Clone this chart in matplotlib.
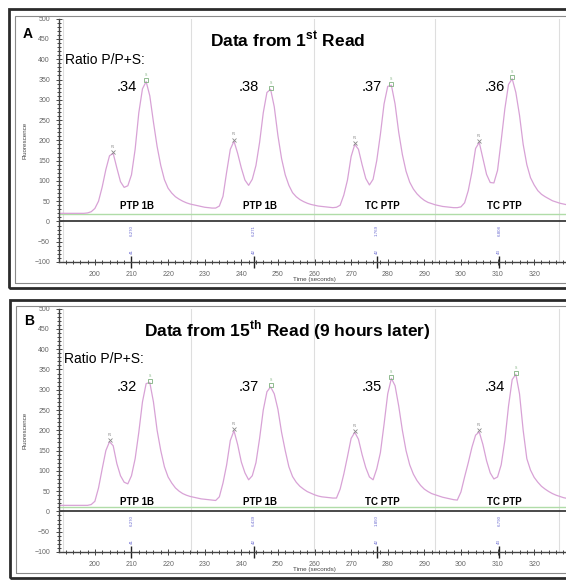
import numpy as np
import matplotlib.pyplot as plt
from matplotlib.patches import Rectangle

plt.rcParams['font.family'] = ['Liberation Sans', 'DejaVu Sans']
plt.rcParams['mathtext.fontset'] = 'custom'
plt.rcParams['mathtext.rm'] = 'Liberation Sans'
plt.rcParams['mathtext.bf'] = 'Liberation Sans:bold'

# fluorescence traces, one reading per second from 190 s to 329 s
time_s = np.arange(190, 330)
read1 = [20, 20, 20, 20, 20, 20, 20, 20, 21, 24,
         32, 50, 85, 128, 162, 168, 132, 98, 84, 88,
         115, 178, 268, 327, 345, 310, 245, 185, 138, 103,
         82, 70, 61, 55, 50, 46, 43, 41, 39, 37,
         35, 34, 33, 33, 38, 62, 122, 178, 198, 168,
         132, 102, 89, 104, 138, 195, 268, 318, 326, 283,
         212, 155, 115, 89, 71, 61, 54, 49, 45, 42,
         40, 38, 37, 36, 35, 34, 35, 40, 65, 102,
         160, 190, 178, 140, 106, 90, 104, 150, 215, 290,
         333, 336, 290, 220, 165, 124, 97, 80, 68, 59,
         52, 47, 44, 41, 39, 37, 36, 35, 34, 34,
         36, 46, 76, 122, 180, 195, 156, 116, 96, 95,
         126, 200, 278, 338, 352, 318, 262, 190, 140, 108,
         90, 76, 67, 61, 56, 51, 48, 45, 43, 41]
read15 = [15, 15, 15, 15, 15, 15, 15, 15, 15, 17,
          25, 58, 105, 150, 172, 162, 118, 88, 72, 68,
          88, 130, 195, 270, 315, 318, 270, 200, 150, 110,
          85, 70, 58, 50, 44, 40, 37, 35, 33, 31,
          30, 29, 28, 27, 36, 70, 115, 175, 199, 165,
          122, 95, 78, 88, 120, 180, 250, 295, 307, 290,
          252, 195, 150, 110, 86, 72, 62, 55, 49, 45,
          41, 38, 36, 35, 34, 33, 33, 55, 92, 135,
          180, 195, 178, 140, 108, 85, 78, 105, 145, 215,
          290, 328, 310, 260, 200, 150, 115, 92, 76, 64,
          55, 49, 44, 41, 38, 35, 33, 31, 29, 28,
          48, 85, 120, 158, 188, 196, 165, 125, 95, 80,
          85, 115, 175, 260, 325, 338, 290, 200, 130, 102,
          84, 72, 62, 55, 49, 44, 40, 37, 34, 32]

ratios1 = ['.34', '.38', '.37', '.36']
ratios15 = ['.32', '.37', '.35', '.34']
enzymes = ['PTP 1B', 'PTP 1B', 'TC PTP', 'TC PTP']
inject_marks = [210, 243.5, 277, 310.5]
separators = [191.3, 226.2, 259.8, 292.9, 326.8]
small_pk1 = [205, 238, 271, 305]
big_pk1 = [214, 248, 281, 314]
small_pk15 = [204, 238, 271, 305]
big_pk15 = [215, 248, 281, 315]
blue1 = ['6.270', '6.271', '1.769', '6.808']
blue15 = ['6.270', '6.439', '1.850', '6.790']
ids = ['41', '42', '42', '43']

W, H = 566, 581
fig = plt.figure(figsize=(W / 100, H / 100), dpi=100)


def box(x0, y0, x1, y1):
    return [x0 / W, 1 - y1 / H, (x1 - x0) / W, (y1 - y0) / H]


def ftext(x, y, s, **kw):
    fig.text(x / W, 1 - y / H, s, **kw)


def frame(x0, y0, x1, y1, **kw):
    fig.patches.append(Rectangle((x0 / W, 1 - y1 / H), (x1 - x0) / W, (y1 - y0) / H,
                                 transform=fig.transFigure, fill=False, **kw))


def panel(top, bot, vals, ratios, small, big, green_y, enz_y, ratio_y, blue):
    ax = fig.add_axes(box(59, top, W, bot))
    ax.set_xlim(190.2, 328.7)
    ax.set_ylim(-100, 500)
    for s in separators:
        ax.axvline(s, color='#dedede', lw=0.8, zorder=0)
    ax.axhline(0, color='#3a3a3a', lw=1.3)
    ax.axhline(green_y, color='#b0dca8', lw=1)
    ax.plot(time_s, vals, color='#d8a2d6', lw=0.9)
    v = dict(zip(time_s, vals))
    for t in small:
        ax.plot(t, v[t] + 4, marker='x', ms=2.5, mew=0.6, color='#888888')
        ax.text(t, v[t] + 14, 'P1', fontsize=2.5, color='#888888', ha='center')
    for t in big:
        ax.plot(t, v[t] + 4, marker='s', ms=2.5, mew=0.6, mfc='none', color='#7fb07f')
        ax.text(t, v[t] + 14, 'S', fontsize=2.5, color='#7fb07f', ha='center')
    for m, r, e, b, i in zip(inject_marks, ratios, enzymes, blue, ids):
        ax.text(m - 1.4, ratio_y, r, fontsize=10.5, ha='center', va='center')
        ax.text(m + 1.5, enz_y, e, fontsize=7, fontweight='bold', ha='center', va='center')
        ax.text(m, -22, b, fontsize=3.2, color='#6a6ad0', rotation=90, ha='center', va='center')
        ax.text(m, -75, i, fontsize=3.2, color='#6a6ad0', rotation=90, ha='center', va='center')
        ax.plot(m, -100, marker='|', ms=9, mew=1, color='#222222', clip_on=False)
    ax.set_xticks(np.arange(200, 330, 10))
    ax.set_xticks(np.arange(192, 330, 2), minor=True)
    ax.set_yticks(np.arange(-100, 501, 50))
    ax.set_yticks(np.arange(-100, 501, 10), minor=True)
    ax.tick_params(which='both', direction='inout', color='#444444', labelcolor='#666666',
                   labelsize=5, width=0.7)
    ax.tick_params(which='major', length=5, pad=4)
    ax.tick_params(which='minor', length=3)
    for sp in ['top', 'right']:
        ax.spines[sp].set_visible(False)
    for sp in ['left', 'bottom']:
        ax.spines[sp].set_color('#444444')
        ax.spines[sp].set_linewidth(1)
    ax.patch.set_alpha(0)
    return ax


# panel A
frame(8.5, 8.5, 590, 287.5, lw=2, edgecolor='#2b2b2b')
frame(15, 15.5, 590, 283, lw=0.8, edgecolor='#8a8a8a')
panel(18.7, 262, read1, ratios1, small_pk1, big_pk1, 18, 37, 332, blue1)
ftext(28, 34, 'A', fontsize=10, fontweight='bold', ha='center', va='center')
ftext(288, 40, r'Data from 1$^{\mathbf{st}}$ Read', fontsize=12.5, fontweight='bold',
      ha='center', va='center')
ftext(65, 60, 'Ratio P/P+S:', fontsize=10, va='center')
ftext(25, 140, 'Fluorescence', fontsize=4.5, rotation=90, color='#444444', ha='center', va='center')
ftext(314, 280, 'Time (seconds)', fontsize=4.5, color='#444444', ha='center', va='center')

# panel B
frame(9.5, 299.5, 590, 577.5, lw=2, edgecolor='#2b2b2b')
frame(16, 306, 590, 573, lw=0.8, edgecolor='#8a8a8a')
panel(308.6, 552, read15, ratios15, small_pk15, big_pk15, 10, 24, 306, blue15)
ftext(29, 321, 'B', fontsize=10, fontweight='bold', ha='center', va='center')
ftext(287, 330, r'Data from 15$^{\mathbf{th}}$ Read (9 hours later)', fontsize=12.5,
      fontweight='bold', ha='center', va='center')
ftext(64, 359, 'Ratio P/P+S:', fontsize=10, va='center')
ftext(25, 430, 'Fluorescence', fontsize=4.5, rotation=90, color='#444444', ha='center', va='center')
ftext(314, 570, 'Time (seconds)', fontsize=4.5, color='#444444', ha='center', va='center')

fig.savefig('out.png', dpi=100)
